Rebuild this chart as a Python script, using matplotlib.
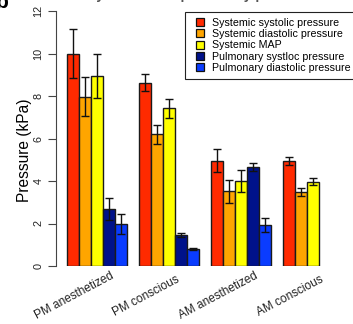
import numpy as np
import matplotlib
matplotlib.use('Agg')
import matplotlib.pyplot as plt
from matplotlib.lines import Line2D

plt.rcParams['font.family'] = ['Liberation Sans', 'DejaVu Sans']

groups = ['PM anesthetized', 'PM conscious', 'AM anesthetized', 'AM conscious']
series = ['Systemic systolic pressure', 'Systemic diastolic pressure', 'Systemic MAP',
          'Pulmonary systloc pressure', 'Pulmonary diastolic pressure']
colors = ['#ff2a00', '#ffa500', '#ffff00', '#00128a', '#0a3cff']

sys_systolic = [10.0, 8.63, 4.96, 4.93]
sys_systolic_err = [1.15, 0.40, 0.53, 0.20]
sys_diastolic = [7.97, 6.20, 3.51, 3.48]
sys_diastolic_err = [0.93, 0.45, 0.55, 0.18]
sys_map = [8.95, 7.42, 3.98, 3.97]
sys_map_err = [1.05, 0.45, 0.52, 0.17]
pul_systolic = [2.68, 1.46, 4.67, np.nan]
pul_systolic_err = [0.50, 0.10, 0.20, np.nan]
pul_diastolic = [1.96, 0.81, 1.93, np.nan]
pul_diastolic_err = [0.47, 0.05, 0.33, np.nan]

values = [sys_systolic, sys_diastolic, sys_map, pul_systolic, pul_diastolic]
errors = [sys_systolic_err, sys_diastolic_err, sys_map_err, pul_systolic_err, pul_diastolic_err]

W, H = 353, 324
fig = plt.figure(figsize=(W / 100, H / 100), dpi=100)
ax = fig.add_axes([56 / W, 58 / H, 297 / W, 255 / H])

g = np.arange(len(groups))
for j, (v, e) in enumerate(zip(values, errors)):
    x = g * 6 + j + 1.5
    v = np.array(v)
    ok = ~np.isnan(v)
    ax.bar(x[ok], v[ok], width=1.0, color=colors[j], edgecolor='#1a1a1a', linewidth=1.0)
    ax.errorbar(x[ok], v[ok], yerr=np.array(e)[ok], fmt='none', ecolor='#111111',
                elinewidth=1.0, capsize=2.6, capthick=1.0)

ax.set_xlim(0.08, 0.08 + 297 / 12)
ax.set_ylim(0, 12)
for s in ['top', 'right', 'bottom']:
    ax.spines[s].set_visible(False)
ax.spines['left'].set_position(('data', 0.08))
ax.spines['left'].set_color('#444444')
ax.spines['left'].set_linewidth(0.8)
ax.set_xticks([])
ax.set_yticks([0, 2, 4, 6, 8, 10, 12])
ax.tick_params(axis='y', length=6, width=0.8, color='#444444', pad=3,
               labelsize=7.8, labelcolor='#222222')
for lab in ax.get_yticklabels():
    lab.set_rotation(90)
    lab.set_va('center')

centers = g * 6 + 3.5
for c, name in zip(centers, groups):
    ax.text(c - 1.9, (28 - 58) / 255, name, transform=ax.get_xaxis_transform(),
            ha='center', va='center', rotation=28, fontsize=8.5, color='#222222')

fig.text(25 / W, 1 - 150 / H, 'Pressure (kPa)', rotation=90, ha='center', va='center',
         fontsize=11.2)

handles = [Line2D([], [], marker='s', linestyle='none', markersize=5.5,
                  markerfacecolor=c, markeredgecolor='#111111', markeredgewidth=0.9)
           for c in colors]
leg = ax.legend(handles, series, loc='upper left', bbox_to_anchor=(185 / W, 1 - 12 / H),
                bbox_transform=fig.transFigure, borderaxespad=0, fancybox=False,
                edgecolor='#222222', framealpha=1, fontsize=7.7, borderpad=0.55,
                handlelength=1.65, handletextpad=0.36, labelspacing=0.12)
leg.get_frame().set_linewidth(0.8)

# cut-off panel letter and title at the top edge
fig.text(-4 / W, 1 - 8 / H, 'b', fontsize=15, fontweight='bold', ha='left', va='baseline')
fig.text(205 / W, 1 + 1 / H, 'Systemic and pulmonary pressures', fontsize=10,
         fontweight='bold', ha='center', va='baseline', color='#555555')

fig.savefig('out.png', dpi=100)
